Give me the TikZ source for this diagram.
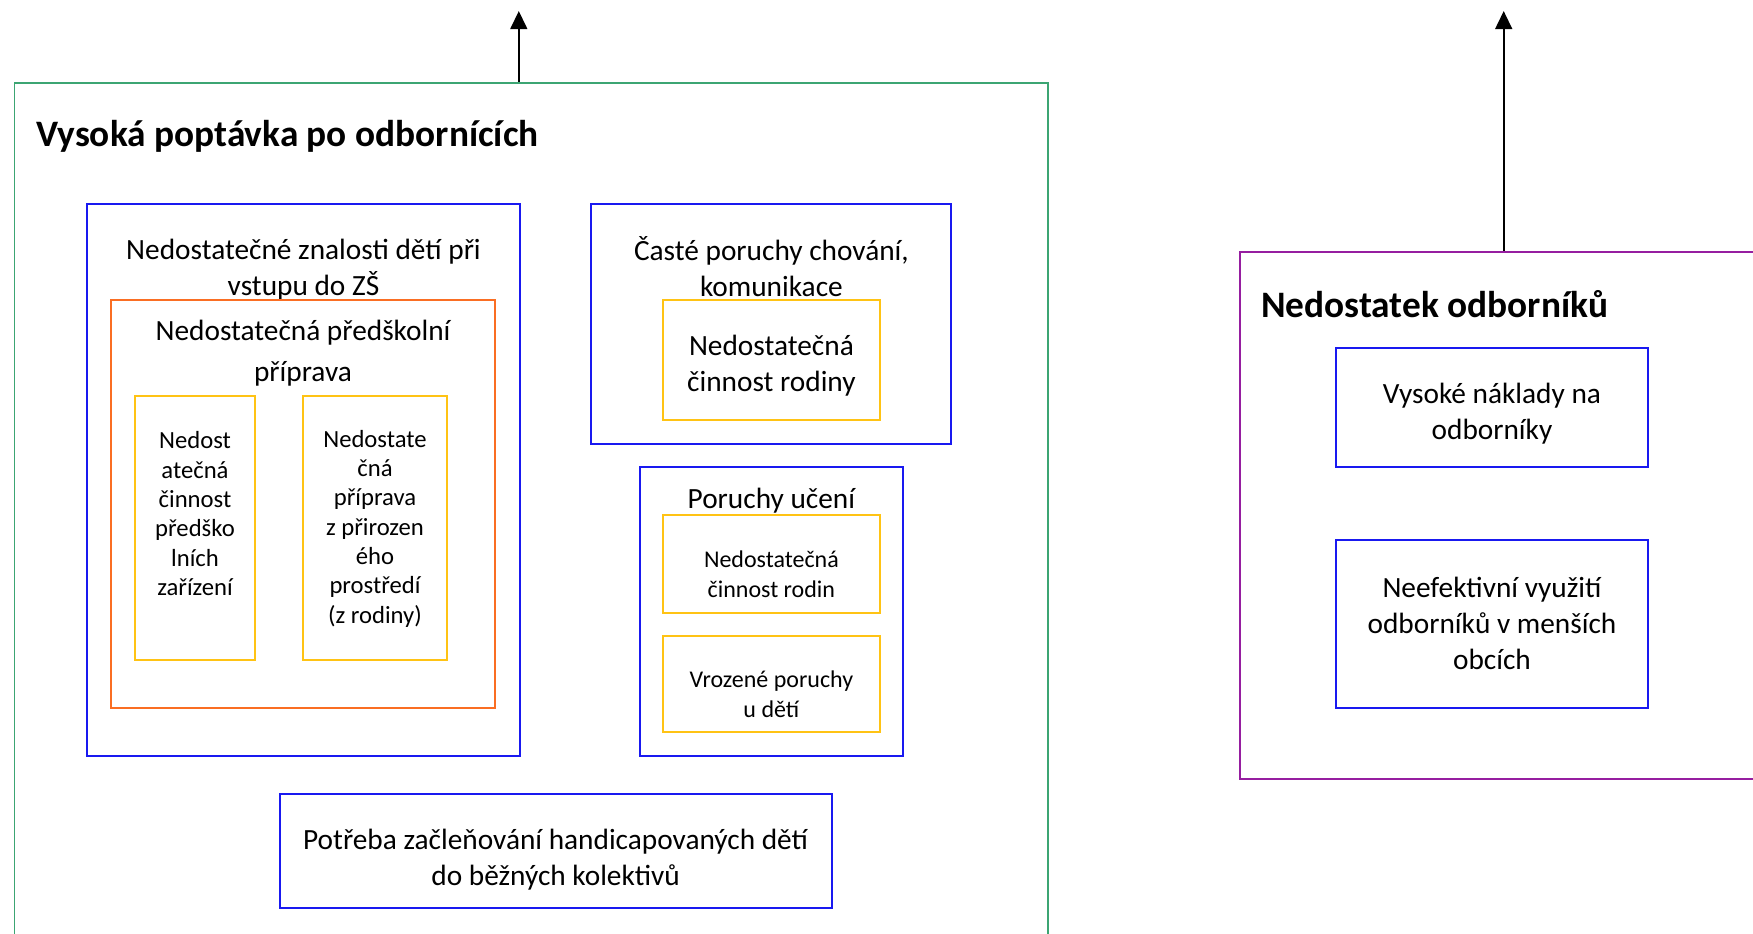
\documentclass[tikz,border=0pt]{standalone}
\usepackage{fontspec}
\setmainfont{Carlito}
\usetikzlibrary{arrows.meta,fit}
\definecolor{cgreen}{RGB}{60,165,115}
\definecolor{cblue}{RGB}{25,25,240}
\definecolor{corange}{RGB}{250,110,35}
\definecolor{cyellow}{RGB}{255,195,20}
\definecolor{cpurple}{RGB}{150,30,160}
\tikzset{
  frame/.style={draw, inner sep=0pt, line width=1.5pt},
  gbox/.style={frame, draw=cgreen, line width=1.4pt},
  bbox/.style={frame, draw=cblue},
  obox/.style={frame, draw=corange},
  ybox/.style={frame, draw=cyellow},
  pbox/.style={frame, draw=cpurple},
  title/.style={font=\bfseries\fontsize{28}{34}\selectfont, anchor=west, inner sep=0pt, yshift=-1.9pt},
  txt/.style={font=\fontsize{22}{27}\selectfont, align=center, inner sep=0pt, yshift=-1.9pt},
  stxt/.style={font=\fontsize{18.5}{22}\selectfont, align=center, inner sep=0pt, yshift=-1.9pt},
  sstxt/.style={font=\fontsize{18}{22.5}\selectfont, align=center, inner sep=0pt, yshift=-1.9pt},
  arr/.style={-{Triangle[width=12.5pt,length=13.5pt]}, line width=1.8pt, black},
}
\begin{document}
\begin{tikzpicture}[x=0.75pt,y=-0.75pt]
\useasboundingbox (0,0) rectangle (1753,933);
% left group
\node[gbox, fit={(14.5,82.7) (1047.6,950)}] (green) {};
\node[title] (gtitle) at (35.8,134) {Vysoká poptávka po odbornících};
\coordinate (gtip) at (518.8,11);
\draw[arr] (green.north -| gtip) -- (gtip);

\node[bbox, fit={(87.2,203.5) (519.9,755.8)}] (bA) {};
\node[txt] (tA) at (303.5,267) {Nedostatečné znalosti dětí při\\vstupu do ZŠ};
\node[obox, fit={(110.7,299.6) (495.3,707.7)}] (oA) {};
\node[txt, font=\fontsize{22}{31}\selectfont] (toA) at (303,350.5) {Nedostatečná předškolní\\příprava};
\node[ybox, fit={(135.3,395.8) (254.9,659.6)}] (y1) {};
\node[stxt] (ty1) at (195,511) {Nedost\\atečná\\činnost\\předško\\lních\\zařízení};
\node[ybox, fit={(303,395.8) (447.2,659.6)}] (y2) {};
\node[stxt] (ty2) at (375,526) {Nedostate\\čná\\příprava\\z přirozen\\ého\\prostředí\\(z rodiny)};

\node[bbox, fit={(591.4,203.5) (951.4,443.8)}] (bB) {};
\node[txt, yshift=2.4pt] (tB) at (771.4,267) {Časté poruchy chování,\\komunikace};
\node[ybox, fit={(663,299.6) (879.9,420.4)}] (y3) {};
\node[txt] (ty3) at (771.4,363.4) {Nedostatečná\\činnost rodiny};

\node[bbox, fit={(639.5,467.3) (903.3,755.8)}] (bC) {};
\node[txt] (tC) at (771.4,498.6) {Poruchy učení};
\node[ybox, fit={(663,515.4) (879.9,612.7)}] (y4) {};
\node[sstxt] (ty4) at (771.4,572) {Nedostatečná\\činnost rodin};
\node[ybox, fit={(663,636.1) (879.9,732.3)}] (y5) {};
\node[sstxt] (ty5) at (771.4,692) {Vrozené poruchy\\u dětí};

\node[bbox, fit={(279.5,793.8) (831.8,907.8)}] (bD) {};
\node[txt] (tD) at (555.6,857.5) {Potřeba začleňování handicapovaných dětí\\do běžných kolektivů};

% right group
\node[pbox, fit={(1239.9,251.6) (1770,779.2)}] (purple) {};
\node[title] (ptitle) at (1261,302) {Nedostatek odborníků};
\coordinate (ptip) at (1503.7,11);
\draw[arr] (purple.north -| ptip) -- (ptip);

\node[bbox, fit={(1336,347.7) (1648,467.3)}] (bE) {};
\node[txt] (tE) at (1492,411) {Vysoké náklady na\\odborníky};
\node[bbox, fit={(1336,540) (1648,707.7)}] (bF) {};
\node[txt] (tF) at (1492,621) {Neefektivní využití\\odborníků v menších\\obcích};
\end{tikzpicture}
\end{document}
